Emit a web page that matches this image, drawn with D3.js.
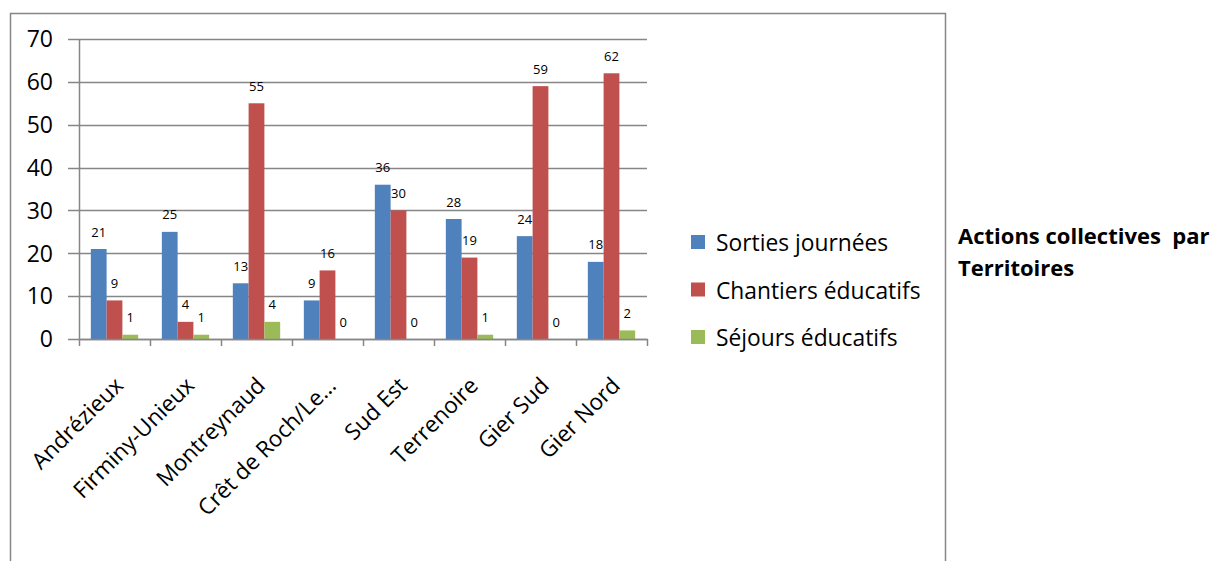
<!DOCTYPE html>
<html>
<head>
<meta charset="utf-8">
<script src="https://cdn.jsdelivr.net/npm/d3@7"></script>
<style>
  html, body { margin: 0; padding: 0; background: #fff; }
  svg { display: block; font-family: "Open Sans", Lato, sans-serif; }
</style>
</head>
<body>
<svg id="chart" width="1212" height="561"></svg>
<script>
// territoires et séries
const territoires = ["Andrézieux", "Firminy-Unieux", "Montreynaud", "Crêt de Roch/Le…", "Sud Est", "Terrenoire", "Gier Sud", "Gier Nord"];
const series = ["Sorties journées", "Chantiers éducatifs", "Séjours éducatifs"];
const sorties = [21, 25, 13, 9, 36, 28, 24, 18];
const chantiers = [9, 4, 55, 16, 30, 19, 59, 62];
const sejours = [1, 1, 4, 0, 0, 1, 0, 2];
const colors = ["#4F81BD", "#C0504D", "#9BBB59"];
const yTicks = [0, 10, 20, 30, 40, 50, 60, 70];

const values = [sorties, chantiers, sejours];
const rows = territoires.map((t, i) => ({
  name: t,
  vals: series.map((s, j) => ({ key: s, value: values[j][i], color: colors[j] }))
}));

const svg = d3.select('#chart');
const gray = '#868686';

// cadre
svg.append('rect')
  .attr('x', 10.5).attr('y', 13.5)
  .attr('width', 935).attr('height', 600)
  .attr('fill', 'none').attr('stroke', gray).attr('stroke-width', 1.5);

const plot = { left: 79, right: 647, top: 39, bottom: 339 };

const x0 = d3.scaleBand()
  .domain(territoires)
  .range([plot.left, plot.right])
  .paddingInner(0).paddingOuter(0);

const x1 = d3.scaleBand()
  .domain(series)
  .range([0, x0.bandwidth()])
  .paddingInner(0).paddingOuter(0.75);

const y = d3.scaleLinear().domain([0, 70]).range([plot.bottom, plot.top]);

// grille
svg.append('g')
  .selectAll('line')
  .data(yTicks)
  .join('line')
  .attr('x1', plot.left - 11).attr('x2', plot.right)
  .attr('y1', d => Math.round(y(d)) + 0.5).attr('y2', d => Math.round(y(d)) + 0.5)
  .attr('stroke', gray).attr('stroke-width', 1.5);

// axe y
svg.append('line')
  .attr('x1', plot.left + 0.5).attr('x2', plot.left + 0.5)
  .attr('y1', plot.top).attr('y2', plot.bottom + 7)
  .attr('stroke', gray).attr('stroke-width', 1.5);

svg.append('g')
  .selectAll('text')
  .data(yTicks)
  .join('text')
  .attr('x', 53)
  .attr('y', d => y(d))
  .attr('dy', '0.36em')
  .attr('text-anchor', 'end')
  .attr('font-size', 23)
  .attr('fill', '#000')
  .text(d => d);

// barres
const groups = svg.append('g')
  .selectAll('g')
  .data(rows)
  .join('g')
  .attr('transform', d => `translate(${x0(d.name)},0)`);

groups.selectAll('rect')
  .data(d => d.vals)
  .join('rect')
  .attr('x', d => x1(d.key))
  .attr('width', x1.bandwidth())
  .attr('y', d => y(d.value))
  .attr('height', d => y(0) - y(d.value))
  .attr('fill', d => d.color);

groups.selectAll('text')
  .data(d => d.vals)
  .join('text')
  .attr('x', d => x1(d.key) + x1.bandwidth() / 2)
  .attr('y', d => y(d.value) - 12.5)
  .attr('text-anchor', 'middle')
  .attr('font-size', 13)
  .attr('fill', '#000')
  .text(d => d.value);

// axe x
svg.append('line')
  .attr('x1', plot.left).attr('x2', plot.right + 1)
  .attr('y1', plot.bottom + 0.5).attr('y2', plot.bottom + 0.5)
  .attr('stroke', gray).attr('stroke-width', 1.5);

const bounds = territoires.map(t => x0(t)).concat([plot.right]);
svg.append('g')
  .selectAll('line')
  .data(bounds.slice(1))
  .join('line')
  .attr('x1', d => Math.round(d) + 0.5).attr('x2', d => Math.round(d) + 0.5)
  .attr('y1', plot.bottom).attr('y2', plot.bottom + 7)
  .attr('stroke', gray).attr('stroke-width', 1.5);

svg.append('g')
  .selectAll('text')
  .data(territoires)
  .join('text')
  .attr('transform', d => `translate(${x0(d) + x0.bandwidth() / 2 + 10},${plot.bottom + 48}) rotate(-45)`)
  .attr('text-anchor', 'end')
  .attr('font-size', 22.5)
  .attr('fill', '#000')
  .text(d => d);

// légende
const legend = svg.append('g')
  .selectAll('g')
  .data(series)
  .join('g')
  .attr('transform', (d, i) => `translate(691,${235 + i * 47.5})`);

legend.append('rect')
  .attr('width', 14).attr('height', 14)
  .attr('fill', (d, i) => colors[i]);

legend.append('text')
  .attr('x', 25).attr('y', 16)
  .attr('font-size', 22.8)
  .attr('fill', '#000')
  .text(d => d);

// titre
const title = svg.append('text')
  .attr('font-size', 22)
  .attr('font-weight', 'bold')
  .attr('fill', '#000');
title.append('tspan').attr('x', 958).attr('y', 244).attr('xml:space', 'preserve').text('Actions collectives  par');
title.append('tspan').attr('x', 958).attr('y', 276).text('Territoires');
</script>
</body>
</html>
